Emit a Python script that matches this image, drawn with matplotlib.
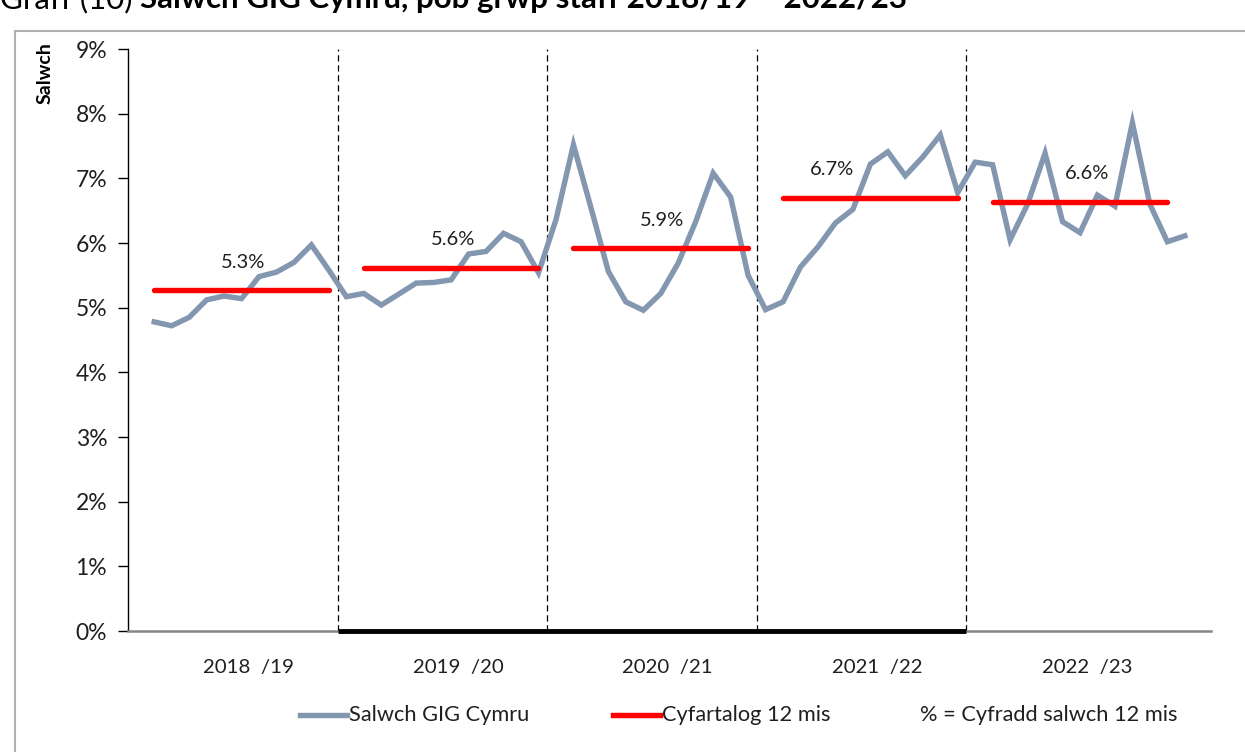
import matplotlib
matplotlib.use("Agg")
import matplotlib.pyplot as plt
from matplotlib.lines import Line2D
from matplotlib.patches import Rectangle
import numpy as np

plt.rcParams['font.family'] = ['Lato', 'DejaVu Sans']

# monthly sickness rate (%), categories 1..60
salwch = [4.78, 4.72, 4.85, 5.12, 5.18, 5.14, 5.48, 5.55, 5.70, 5.97, 5.58,
          5.17, 5.22, 5.04, 5.21, 5.38, 5.39, 5.43, 5.83, 5.87, 6.15, 6.02, 5.54,
          6.36, 7.52, 6.55, 5.56, 5.09, 4.96, 5.22, 5.69, 6.33, 7.08, 6.71, 5.50,
          4.97, 5.09, 5.63, 5.94, 6.31, 6.52, 7.22, 7.41, 7.04, 7.33, 7.67, 6.78,
          7.25, 7.21, 6.05, 6.60, 7.39, 6.33, 6.16, 6.74, 6.57, 7.86, 6.60, 6.02, 6.11]
years = ['2018  /19', '2019  /20', '2020  /21', '2021  /22', '2022  /23']
avg12 = [5.27, 5.62, 5.92, 6.70, 6.64]
avg_labels = ['5.3%', '5.6%', '5.9%', '6.7%', '6.6%']

GREY = '#8497b0'
RED = '#ff0000'
TXT = '#1f1f1f'

fig = plt.figure(figsize=(12.45, 7.52), dpi=100)
ax = fig.add_axes([128/1245, 1 - 631/752, 1083/1245, 582/752])

x = np.arange(1, len(salwch) + 1)
ax.plot(x, salwch, color=GREY, lw=3.9, solid_joinstyle='miter', zorder=3)

for k, v in enumerate(avg12):
    ax.plot([12*k + 1, 12*k + 11], [v, v], color=RED, lw=3.9,
            solid_capstyle='round', zorder=4)

lab_x = [6.1, 18.1, 30.1, 39.8, 54.4]
for k, (v, t) in enumerate(zip(avg12, avg_labels)):
    ax.text(lab_x[k], v + 0.43, t, ha='center', va='center',
            fontsize=14.5, color=TXT)

for b in [12, 24, 36, 48]:
    ax.axvline(b - 0.5, color='black', lw=0.9, ls=(0, (5, 3)), zorder=1)

ax.set_xlim(-0.5, 61.5)
ax.set_ylim(0, 9)
ax.set_yticks(range(0, 10))
ax.set_yticklabels([f'{i}%' for i in range(0, 10)], fontsize=16.5, color=TXT)
ax.set_xticks([12*k + 6.4 for k in range(5)])
ax.set_xticklabels(years, fontsize=14.7, color=TXT)
ax.tick_params(axis='x', length=0, pad=20)
ax.tick_params(axis='y', length=7, width=1, pad=8, direction='out')

for s in ['top', 'right']:
    ax.spines[s].set_visible(False)
ax.spines['left'].set_color('black')
ax.spines['left'].set_linewidth(1)
ax.spines['bottom'].set_color('#868686')
ax.spines['bottom'].set_linewidth(1.8)
ax.plot([11.5, 47.5], [0, 0], color='black', lw=3.5, solid_capstyle='butt',
        clip_on=False, zorder=5)

ax.set_ylabel('Salwch', fontsize=14, fontweight='bold', color='black')
ax.yaxis.label.set_va('center')
ax.yaxis.label.set_ha('center')
ax.yaxis.set_label_coords(-83/1083, (631 - 73)/582)

# chart border
fig.add_artist(Rectangle((15/1245, -0.01), 1.05, 1 - 31/752 + 0.01,
                         transform=fig.transFigure, fill=False,
                         edgecolor='#b0b0b0', lw=1.5))

# title (cut at the top as in the source)
ty = 1 - 8/752
t1 = fig.text(0, ty, 'Graff (10) ', fontsize=22.5, va='baseline', ha='left')
fig.canvas.draw()
ext = t1.get_window_extent()
fig.text(ext.x1 / fig.bbox.width, ty,
         'Salwch GIG Cymru, pob grŵp staff 2018/19 – 2022/23',
         fontsize=22.5, fontweight='bold', va='baseline', ha='left')

# legend
ly = 1 - 715/752
fig.add_artist(Line2D([300/1245, 347/1245], [ly, ly], color=GREY, lw=3.9,
                      transform=fig.transFigure))
fig.text(349/1245, ly, 'Salwch GIG Cymru', fontsize=15.7, va='center', ha='left',
         color=TXT)
fig.add_artist(Line2D([613/1245, 660/1245], [ly, ly], color=RED, lw=3.9,
                      transform=fig.transFigure))
fig.text(662/1245, ly, 'Cyfartalog 12 mis', fontsize=15.7, va='center', ha='left',
         color=TXT)
fig.text(920/1245, ly, '% = Cyfradd salwch 12 mis', fontsize=15.7, va='center',
         ha='left', color=TXT)

fig.savefig('out.png', dpi=100)
